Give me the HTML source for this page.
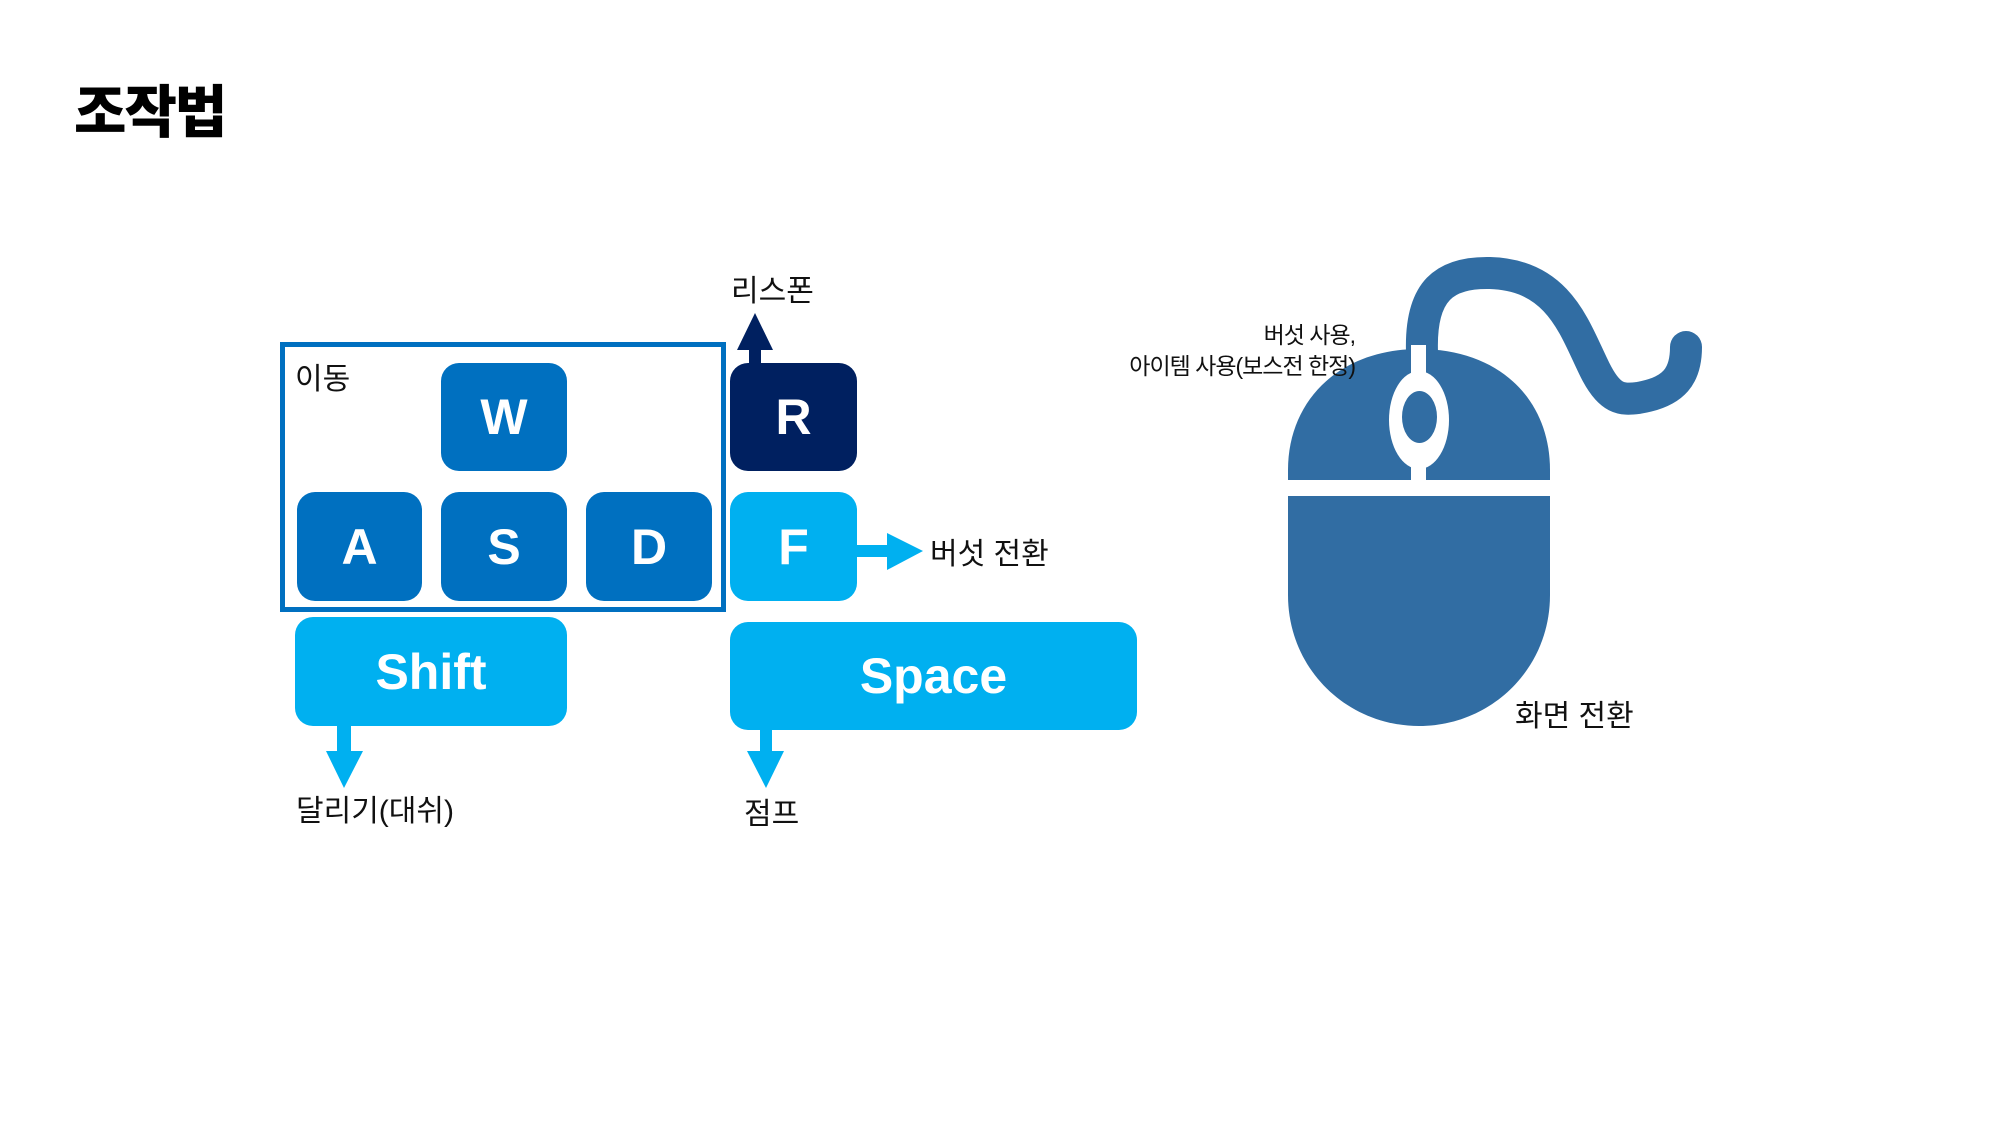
<!DOCTYPE html>
<html><head><meta charset="utf-8"><style>
body{margin:0;width:2000px;height:1125px;background:#fff;position:relative;overflow:hidden;font-family:"Liberation Sans","Noto Sans CJK KR",sans-serif}
.k{position:absolute;border-radius:18px;color:#fff;font-weight:bold;font-size:50px;display:flex;align-items:center;justify-content:center}
.d{background:#0070C0}.l{background:#00B0F0}
.t{position:absolute;font-size:30px;color:#111;white-space:nowrap;line-height:1}
</style></head><body>
<div class="t" style="left:74px;top:85px;font-size:57px;font-weight:900;letter-spacing:-2px;color:#000">조작법</div>
<div style="position:absolute;left:280px;top:342px;width:436px;height:260px;border:5px solid #0070C0"></div>
<div class="t" style="left:295px;top:365px">이동</div>
<div class="k d" style="left:441px;top:363px;width:126px;height:108px">W</div>
<div class="k d" style="left:297px;top:492px;width:125px;height:109px">A</div>
<div class="k d" style="left:441px;top:492px;width:126px;height:109px">S</div>
<div class="k d" style="left:586px;top:492px;width:126px;height:109px">D</div>
<div class="k" style="left:730px;top:363px;width:127px;height:108px;background:#002060">R</div>
<div class="k l" style="left:730px;top:492px;width:127px;height:109px">F</div>
<div class="k l" style="left:295px;top:617px;width:272px;height:109px">Shift</div>
<div class="k l" style="left:730px;top:622px;width:407px;height:108px">Space</div>
<svg style="position:absolute;left:0;top:0" width="2000" height="1125">
<rect x="749" y="345" width="12" height="20" fill="#002060"/><polygon points="737,350 773,350 755,313" fill="#002060"/>
<rect x="855" y="545" width="35" height="12" fill="#00B0F0"/><polygon points="887,533 887,570 923,551" fill="#00B0F0"/>
<rect x="337" y="724" width="14" height="30" fill="#00B0F0"/><polygon points="326,751 363,751 344,788" fill="#00B0F0"/>
<rect x="760" y="728" width="12" height="26" fill="#00B0F0"/><polygon points="747,751 784,751 766,788" fill="#00B0F0"/>
<path d="M1422 352 C1420 290 1445 272 1490 273 C1560 275 1575 330 1595 370 C1610 400 1622 400 1638 398 C1675 392 1686 375 1686 347" fill="none" stroke="#316DA3" stroke-width="32" stroke-linecap="round"/>
<path d="M1288 480 L1288 470 C1288 400 1340 349 1419 349 C1500 349 1550 400 1550 470 L1550 480 Z" fill="#316DA3"/>
<path d="M1288 496 L1550 496 L1550 595 C1550 670 1490 726 1419 726 C1348 726 1288 670 1288 595 Z" fill="#316DA3"/>
<rect x="1411" y="345" width="15" height="140" fill="#fff"/>
<ellipse cx="1419" cy="420" rx="30" ry="49" fill="#fff"/>
<ellipse cx="1419.5" cy="417" rx="17.5" ry="26" fill="#316DA3"/>
</svg>
<div class="t" style="left:731px;top:277px">리스폰</div>
<div class="t" style="left:930px;top:540px">버섯 전환</div>
<div class="t" style="left:296px;top:797px">달리기(대쉬)</div>
<div class="t" style="left:744px;top:800px">점프</div>
<div class="t" style="left:1515px;top:702px">화면 전환</div>
<div class="t" style="right:645px;top:320px;font-size:23px;text-align:right;line-height:31px;letter-spacing:-1px">버섯 사용,<br>아이템 사용(보스전 한정)</div>
</body></html>
